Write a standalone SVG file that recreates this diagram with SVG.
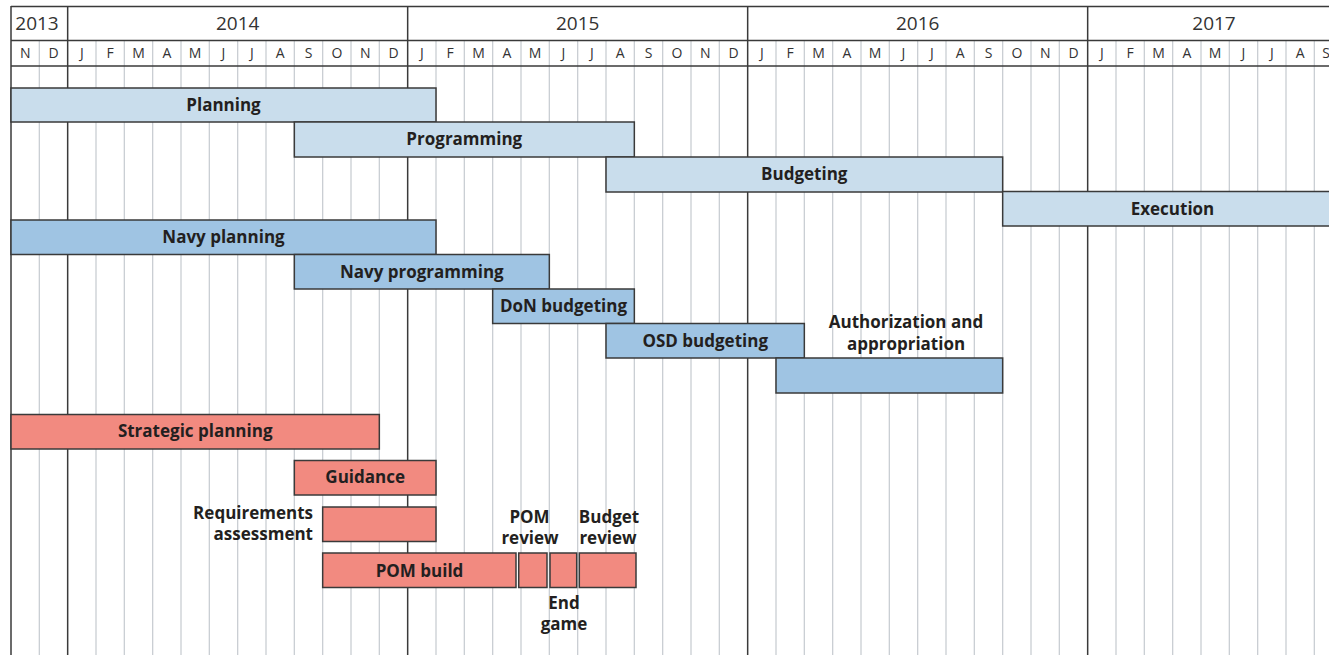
<svg xmlns="http://www.w3.org/2000/svg" width="1329" height="655" viewBox="0 0 1329 655">
<style>
.bg{fill:#ffffff}
.mline{stroke:#c9ced3;stroke-width:1.3}
.yline{stroke:#3a3a3a;stroke-width:1.5}
.hline{stroke:#3a3a3a;stroke-width:1.5}
.yr{font-family:"Open Sans","Noto Sans",sans-serif;font-size:19px;fill:#333;text-anchor:middle}
.mo{font-family:"Open Sans","Noto Sans",sans-serif;font-size:14px;fill:#333;text-anchor:middle}
.bar{stroke:#3a3a3a;stroke-width:1.5}
.lb{fill:#c9ddec}
.mb{fill:#9fc4e3}
.sa{fill:#f28a80}
.t{font-family:"Open Sans","Noto Sans",sans-serif;font-size:17px;font-weight:bold;fill:#231f20;text-anchor:middle}
.tr{text-anchor:end}
</style>
<rect class="bg" x="0" y="0" width="1329" height="655"/>
<g id="grid">
<g class="mline">
<line x1="39.33" y1="40" x2="39.33" y2="655"/>
<line x1="96" y1="40" x2="96" y2="655"/>
<line x1="124.33" y1="40" x2="124.33" y2="655"/>
<line x1="152.67" y1="40" x2="152.67" y2="655"/>
<line x1="181" y1="40" x2="181" y2="655"/>
<line x1="209.33" y1="40" x2="209.33" y2="655"/>
<line x1="237.67" y1="40" x2="237.67" y2="655"/>
<line x1="266" y1="40" x2="266" y2="655"/>
<line x1="294.33" y1="40" x2="294.33" y2="655"/>
<line x1="322.67" y1="40" x2="322.67" y2="655"/>
<line x1="351" y1="40" x2="351" y2="655"/>
<line x1="379.33" y1="40" x2="379.33" y2="655"/>
<line x1="436" y1="40" x2="436" y2="655"/>
<line x1="464.33" y1="40" x2="464.33" y2="655"/>
<line x1="492.67" y1="40" x2="492.67" y2="655"/>
<line x1="521" y1="40" x2="521" y2="655"/>
<line x1="549.33" y1="40" x2="549.33" y2="655"/>
<line x1="577.67" y1="40" x2="577.67" y2="655"/>
<line x1="606" y1="40" x2="606" y2="655"/>
<line x1="634.33" y1="40" x2="634.33" y2="655"/>
<line x1="662.67" y1="40" x2="662.67" y2="655"/>
<line x1="691" y1="40" x2="691" y2="655"/>
<line x1="719.33" y1="40" x2="719.33" y2="655"/>
<line x1="776" y1="40" x2="776" y2="655"/>
<line x1="804.33" y1="40" x2="804.33" y2="655"/>
<line x1="832.67" y1="40" x2="832.67" y2="655"/>
<line x1="861" y1="40" x2="861" y2="655"/>
<line x1="889.33" y1="40" x2="889.33" y2="655"/>
<line x1="917.67" y1="40" x2="917.67" y2="655"/>
<line x1="946" y1="40" x2="946" y2="655"/>
<line x1="974.33" y1="40" x2="974.33" y2="655"/>
<line x1="1002.67" y1="40" x2="1002.67" y2="655"/>
<line x1="1031" y1="40" x2="1031" y2="655"/>
<line x1="1059.33" y1="40" x2="1059.33" y2="655"/>
<line x1="1116" y1="40" x2="1116" y2="655"/>
<line x1="1144.33" y1="40" x2="1144.33" y2="655"/>
<line x1="1172.67" y1="40" x2="1172.67" y2="655"/>
<line x1="1201" y1="40" x2="1201" y2="655"/>
<line x1="1229.33" y1="40" x2="1229.33" y2="655"/>
<line x1="1257.67" y1="40" x2="1257.67" y2="655"/>
<line x1="1286" y1="40" x2="1286" y2="655"/>
<line x1="1314.33" y1="40" x2="1314.33" y2="655"/>
</g>
<g class="yline">
<line x1="11" y1="6" x2="11" y2="655"/>
<line x1="67.67" y1="6" x2="67.67" y2="655"/>
<line x1="407.67" y1="6" x2="407.67" y2="655"/>
<line x1="747.67" y1="6" x2="747.67" y2="655"/>
<line x1="1087.67" y1="6" x2="1087.67" y2="655"/>
</g>
<g class="hline">
<line x1="11" y1="6.5" x2="1329" y2="6.5"/>
<line x1="11" y1="40.5" x2="1329" y2="40.5"/>
<line x1="11" y1="66" x2="1329" y2="66"/>
</g>
</g>
<g id="header">
<text class="yr" x="37" y="30">2013</text>
<text class="yr" x="237.67" y="30">2014</text>
<text class="yr" x="577.67" y="30">2015</text>
<text class="yr" x="917.67" y="30">2016</text>
<text class="yr" x="1214" y="30">2017</text>
<g class="mo">
<text x="25.17" y="58">N</text><text x="53.5" y="58">D</text>
<text x="81.83" y="58">J</text><text x="110.17" y="58">F</text><text x="138.5" y="58">M</text><text x="166.83" y="58">A</text><text x="195.17" y="58">M</text><text x="223.5" y="58">J</text><text x="251.83" y="58">J</text><text x="280.17" y="58">A</text><text x="308.5" y="58">S</text><text x="336.83" y="58">O</text><text x="365.17" y="58">N</text><text x="393.5" y="58">D</text>
<text x="421.83" y="58">J</text><text x="450.17" y="58">F</text><text x="478.5" y="58">M</text><text x="506.83" y="58">A</text><text x="535.17" y="58">M</text><text x="563.5" y="58">J</text><text x="591.83" y="58">J</text><text x="620.17" y="58">A</text><text x="648.5" y="58">S</text><text x="676.83" y="58">O</text><text x="705.17" y="58">N</text><text x="733.5" y="58">D</text>
<text x="761.83" y="58">J</text><text x="790.17" y="58">F</text><text x="818.5" y="58">M</text><text x="846.83" y="58">A</text><text x="875.17" y="58">M</text><text x="903.5" y="58">J</text><text x="931.83" y="58">J</text><text x="960.17" y="58">A</text><text x="988.5" y="58">S</text><text x="1016.83" y="58">O</text><text x="1045.17" y="58">N</text><text x="1073.5" y="58">D</text>
<text x="1101.83" y="58">J</text><text x="1130.17" y="58">F</text><text x="1158.5" y="58">M</text><text x="1186.83" y="58">A</text><text x="1215.17" y="58">M</text><text x="1243.5" y="58">J</text><text x="1271.83" y="58">J</text><text x="1300.17" y="58">A</text><text x="1326" y="58">S</text>
</g>
</g>
<g id="planning"><rect class="bar lb" x="11" y="88" width="425" height="34"/><text class="t" x="223.5" y="110.5">Planning</text></g>
<g id="programming"><rect class="bar lb" x="294.33" y="122" width="340" height="35"/><text class="t" x="464.3" y="145">Programming</text></g>
<g id="budgeting"><rect class="bar lb" x="606" y="157" width="396.67" height="35"/><text class="t" x="804.3" y="180">Budgeting</text></g>
<g id="execution"><rect class="bar lb" x="1002.67" y="191.5" width="340" height="34.5"/><text class="t" x="1172.5" y="215">Execution</text></g>
<g id="navy-planning"><rect class="bar mb" x="11" y="220" width="425" height="34.5"/><text class="t" x="223.5" y="243">Navy planning</text></g>
<g id="navy-programming"><rect class="bar mb" x="294.33" y="254.5" width="255" height="34.5"/><text class="t" x="421.8" y="278">Navy programming</text></g>
<g id="don-budgeting"><rect class="bar mb" x="492.67" y="289" width="141.67" height="34.5"/><text class="t" x="563.5" y="312">DoN budgeting</text></g>
<g id="osd-budgeting"><rect class="bar mb" x="606" y="323.5" width="198.33" height="34.5"/><text class="t" x="705.2" y="347">OSD budgeting</text></g>
<g id="authorization"><rect class="bar mb" x="776" y="358" width="226.67" height="35"/><text class="t" x="906" y="328">Authorization and</text><text class="t" x="906" y="350">appropriation</text></g>
<g id="strategic-planning"><rect class="bar sa" x="11" y="414.5" width="368.33" height="34.5"/><text class="t" x="195.2" y="437">Strategic planning</text></g>
<g id="guidance"><rect class="bar sa" x="294.33" y="460.5" width="141.67" height="34.5"/><text class="t" x="365.2" y="483">Guidance</text></g>
<g id="requirements-assessment"><rect class="bar sa" x="322.67" y="507" width="113.33" height="34.5"/><text class="t tr" x="313" y="519">Requirements</text><text class="t tr" x="313" y="540">assessment</text></g>
<g id="pom-build"><rect class="bar sa" x="322.67" y="553" width="193.33" height="34.5"/><text class="t" x="419.5" y="577">POM build</text></g>
<g id="pom-review"><rect class="bar sa" x="518.7" y="553" width="28.3" height="34.5"/><text class="t" x="529.5" y="523">POM</text><text class="t" x="530" y="544">review</text></g>
<g id="end-game"><rect class="bar sa" x="550" y="553" width="26.7" height="34.5"/><text class="t" x="564" y="609">End</text><text class="t" x="564" y="630">game</text></g>
<g id="budget-review"><rect class="bar sa" x="579.3" y="553" width="56.7" height="34.5"/><text class="t" x="609" y="523">Budget</text><text class="t" x="608" y="544">review</text></g>
</svg>
